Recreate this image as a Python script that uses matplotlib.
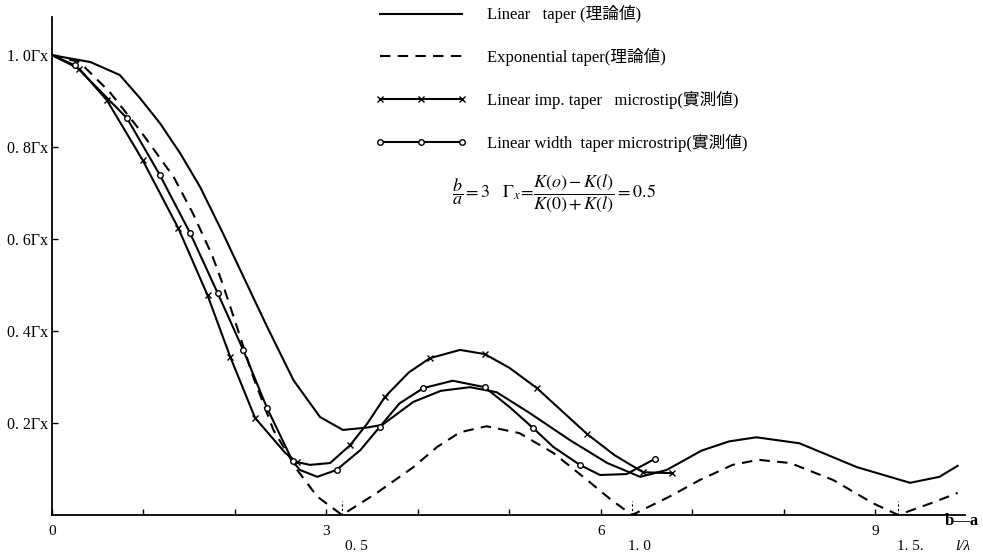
import matplotlib
matplotlib.use('Agg')
import matplotlib.pyplot as plt

plt.rcParams['font.family'] = ['Liberation Serif', 'Noto Sans CJK JP']
plt.rcParams['mathtext.fontset'] = 'stix'

# ---------------- data ----------------
# Linear taper (theory), solid
lin_x = [0.0, 0.42, 0.74, 0.96, 1.18, 1.40, 1.62, 1.87, 2.10, 2.35, 2.64, 2.93, 3.18,
         3.44, 3.61, 3.95, 4.25, 4.57, 4.86, 5.22, 5.66, 6.07, 6.43, 6.72, 7.10,
         7.40, 7.70, 8.17, 8.80, 9.38, 9.70, 9.90]
lin_y = [1.000, 0.985, 0.957, 0.907, 0.852, 0.787, 0.713, 0.612, 0.515, 0.410, 0.293, 0.213, 0.185,
         0.190, 0.196, 0.246, 0.270, 0.278, 0.267, 0.222, 0.163, 0.113, 0.083, 0.098, 0.140,
         0.160, 0.169, 0.156, 0.104, 0.070, 0.083, 0.107]

# Exponential taper (theory), dashed
exp_x = [0.0, 0.30, 0.63, 0.96, 1.33, 1.54, 1.75, 1.87, 2.02, 2.20, 2.42, 2.68, 2.90, 3.17,
         3.55, 3.95, 4.21, 4.46, 4.75, 5.11, 5.48, 5.85, 6.10, 6.34, 6.75, 7.08,
         7.44, 7.72, 8.07, 8.54, 8.97, 9.25, 9.60, 9.90]
exp_y = [1.000, 0.985, 0.920, 0.837, 0.735, 0.656, 0.565, 0.500, 0.410, 0.300, 0.185, 0.098, 0.040, 0.000,
         0.048, 0.104, 0.148, 0.180, 0.193, 0.178, 0.135, 0.076, 0.035, 0.000, 0.040, 0.076,
         0.109, 0.120, 0.113, 0.076, 0.026, 0.000, 0.025, 0.048]

# Linear imp. taper microstrip (measured), x markers
imp_x = [0.0, 0.30, 0.60, 0.99, 1.38, 1.70, 1.95, 2.22, 2.55, 2.68, 2.82, 3.04, 3.26, 3.45,
         3.64, 3.90, 4.13, 4.46, 4.73, 5.00, 5.30, 5.58, 5.85, 6.15, 6.46, 6.78]
imp_y = [1.000, 0.970, 0.902, 0.772, 0.624, 0.478, 0.343, 0.211, 0.135, 0.115, 0.109, 0.113, 0.152, 0.200,
         0.257, 0.310, 0.341, 0.359, 0.350, 0.320, 0.276, 0.225, 0.176, 0.130, 0.093, 0.091]
imp_marks = [1, 2, 3, 4, 5, 6, 7, 9, 12, 14, 16, 18, 20, 22, 24, 25]

# Linear width taper microstrip (measured), o markers
wid_x = [0.0, 0.25, 0.82, 1.18, 1.51, 1.81, 2.09, 2.35, 2.63, 2.71, 2.90, 3.11, 3.37, 3.58,
         3.80, 4.06, 4.38, 4.73, 5.00, 5.26, 5.48, 5.77, 5.99, 6.28, 6.59]
wid_y = [1.000, 0.978, 0.863, 0.739, 0.613, 0.483, 0.359, 0.233, 0.117, 0.098, 0.083, 0.098, 0.141, 0.191,
         0.243, 0.276, 0.292, 0.278, 0.235, 0.189, 0.148, 0.109, 0.087, 0.089, 0.122]
wid_marks = [1, 2, 3, 4, 5, 6, 7, 8, 11, 13, 15, 17, 19, 21, 24]

zero_x = [3.17, 6.34, 9.25]

xtick_pos = [0, 1, 2, 3, 4, 5, 6, 7, 8, 9]
xtick_labels = ['0', '', '', '3', '', '', '6', '', '', '9']
ratio_pos = [3.33, 6.42, 9.38]
ratio_labels = ['0. 5', '1. 0', '1. 5.']
ytick_pos = [0.2, 0.4, 0.6, 0.8, 1.0]
ytick_labels = ['0. 2Γx', '0. 4Γx', '0. 6Γx', '0. 8Γx', '1. 0Γx']

legend_labels = ['Linear   taper (理論値)',
                 'Exponential taper(理論値)',
                 'Linear imp. taper   microstip(實測値)',
                 'Linear width  taper microstrip(實測値)']
formula = r'$\dfrac{b}{a}=3\quad \Gamma_{x}\!=\!\dfrac{K(o)-K(l)}{K(0)+K(l)}=0.5$'

# ---------------- figure ----------------
W, H = 983, 554
fig = plt.figure(figsize=(W / 100, H / 100), dpi=100)
ax = fig.add_axes([52 / W, 39 / H, 913 / W, 498 / H])
ax.set_xlim(0, 9.98)
ax.set_ylim(0, 1.083)

lw = 1.5
l1, = ax.plot(lin_x, lin_y, color='black', lw=lw)
l2, = ax.plot(exp_x, exp_y, color='black', lw=lw, linestyle=(0, (5, 3.5)))
l3, = ax.plot(imp_x, imp_y, color='black', lw=lw, marker='x', markersize=4,
              markeredgewidth=1.0, markevery=imp_marks)
l4, = ax.plot(wid_x, wid_y, color='black', lw=lw, marker='o', markersize=4,
              markerfacecolor='white', markeredgewidth=1.0, markevery=wid_marks)

for zx in zero_x:
    ax.plot([zx, zx], [0, 0.03], color='black', lw=0.8, linestyle=(0, (2, 2)))

for s in ['top', 'right']:
    ax.spines[s].set_visible(False)
for s in ['left', 'bottom']:
    ax.spines[s].set_linewidth(1.3)

ax.set_xticks(xtick_pos)
ax.set_xticklabels(xtick_labels, fontsize=11)
ax.set_yticks(ytick_pos)
ax.set_yticklabels(ytick_labels, fontsize=11.5)
ax.tick_params(axis='both', direction='in', length=4, width=1)
ax.tick_params(axis='x', pad=7)
ax.tick_params(axis='y', pad=3)

for px, lab in zip(ratio_pos, ratio_labels):
    ax.text(px, -0.069, lab, ha='center', va='center', fontsize=11)
ax.text(9.95, -0.014, 'b—a', ha='center', va='center', fontsize=12, fontweight='bold')
ax.text(9.96, -0.069, 'l/λ', ha='center', va='center', fontsize=11, style='italic')

handles = [l1, l2, l3, l4]
fig.legend(handles, legend_labels, loc='upper left',
           bbox_to_anchor=(372 / W, 1 - 2 / H), bbox_transform=fig.transFigure,
           frameon=False, fontsize=12, handlelength=5.5, handletextpad=1.2,
           labelspacing=1.48, numpoints=3, borderpad=0.2, borderaxespad=0)

fig.text(452 / W, 1 - 193 / H, formula, ha='left', va='center', fontsize=13)

fig.savefig('out.png', dpi=100)
